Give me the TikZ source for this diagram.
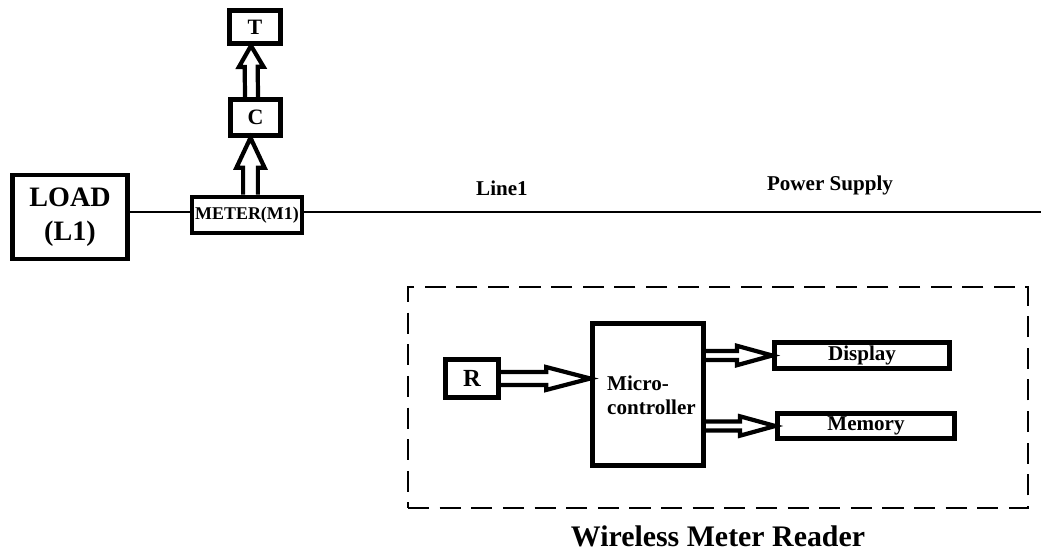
\documentclass[tikz,border=0pt]{standalone}
\usepackage{fontspec}
\setmainfont{Liberation Serif}
\usepackage{tikz}
\usetikzlibrary{arrows.meta,positioning,calc}

\tikzset{
  blk/.style={draw, line width=2.6pt, inner sep=0pt, font=\bfseries},
  hollow/.style={line width=2.4pt, line join=miter},
  lbl/.style={font=\bfseries\fontsize{12}{13}\selectfont}
}
% hollow block arrow: {head length}{shaft half}{head half}{from}{to}
\newcommand\harrow[5]{%
  \path (#4) coordinate (hs) (#5) coordinate (he);
  \path ($(he)!#1!(hs)$) coordinate (hb);
  \draw[hollow] ($(hs)!#2!90:(he)$) -- ($(hb)!#2!90:(he)$)
    -- ($(hb)!#3!90:(he)$) -- (he) -- ($(hb)!#3!-90:(he)$)
    -- ($(hb)!#2!-90:(he)$) -- ($(hs)!#2!-90:(he)$);
}

\begin{document}
\begin{tikzpicture}[x=0.02cm, y=-0.02cm]
\useasboundingbox (0,0) rectangle (1041,550);
% grid side
\node[blk, minimum width=2.3cm, minimum height=1.68cm, align=center,
  font=\bfseries\fontsize{16}{19}\selectfont] (load) at (70,217) {LOAD\\(L1)};
\node[blk, minimum width=2.2cm, minimum height=0.72cm,
  font=\bfseries\fontsize{10.2}{11}\selectfont] (meter) at (247,215) {METER(M1)};
\node[blk, minimum width=1.0cm, minimum height=0.72cm,
  font=\bfseries\fontsize{12.5}{14}\selectfont] (c) at (255.5,117.5) {C};
\node[blk, minimum width=1.02cm, minimum height=0.66cm,
  font=\bfseries\fontsize{12.5}{14}\selectfont] (t) at (255,27) {T};
\coordinate (ps) at (1041,212);
\draw[line width=1.7pt] (meter.west |- ps) -- (load.east |- ps);
\draw[line width=1.7pt] (meter.east |- ps) -- (ps);
\node[lbl] (line1) at (502,188) {Line1};
\node[lbl] (supply) at (830,185) {Power Supply};
\harrow{17pt}{4.2pt}{8pt}{[xshift=-0.1cm]c.south |- meter.north}{[xshift=-0.1cm]c.south}
\harrow{12pt}{3.7pt}{7pt}{[xshift=-0.08cm]c.north}{[xshift=-0.08cm]t.south}
% reader side
\node[draw, line width=1.4pt, dash pattern=on 12pt off 6pt,
  minimum width=12.4cm, minimum height=4.42cm] (wmr) at (718,397.5) {};
\node[font=\bfseries\fontsize{17}{19}\selectfont, below=0.2cm of wmr] (title) {Wireless Meter Reader};
\node[blk, minimum width=1.06cm, minimum height=0.76cm,
  font=\bfseries\fontsize{14}{16}\selectfont] (r) at (472,378.5) {R};
\node[blk, minimum width=2.22cm, minimum height=2.84cm] (mc) at (648,394.5) {};
\node[anchor=west, align=left, font=\bfseries\fontsize{12}{13.5}\selectfont] (mctext) at (601,395)
  {Micro-\\controller};
\node[blk, minimum width=3.5cm, minimum height=0.52cm,
  font=\bfseries\fontsize{12}{13}\selectfont] (display) at (862,355.5) {Display};
\node[blk, minimum width=3.54cm, minimum height=0.5cm,
  font=\bfseries\fontsize{12}{13}\selectfont] (memory) at (866,426) {Memory};
\harrow{25pt}{3.7pt}{6.5pt}{r.east}{mc.west |- r.east}
\harrow{20pt}{2.6pt}{5.5pt}{mc.east |- display.west}{display.west}
\harrow{20pt}{2.6pt}{5.5pt}{mc.east |- memory.west}{memory.west}
\end{tikzpicture}
\end{document}
